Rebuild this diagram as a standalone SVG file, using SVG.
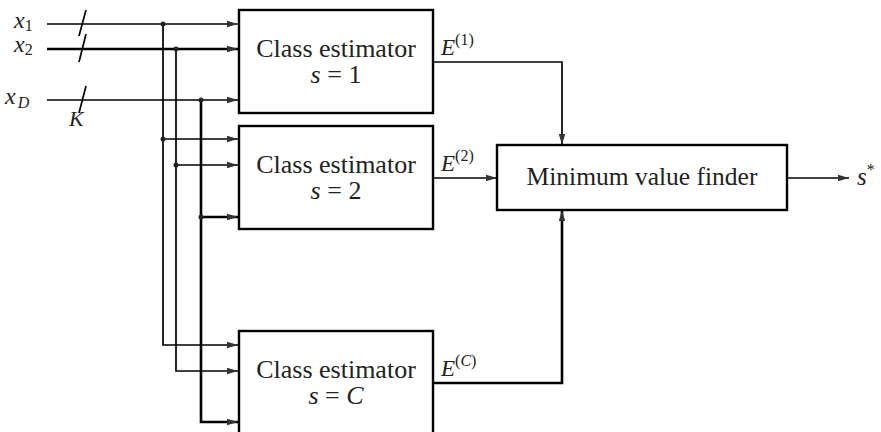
<svg xmlns="http://www.w3.org/2000/svg" width="881" height="432" viewBox="0 0 881 432">
<style>
text{font-family:"Liberation Serif","Times New Roman",serif;fill:#222}
.box{fill:#fff;stroke:#000;stroke-width:2.4}
.ln{fill:none;stroke:#000;stroke-width:1.7}
.tk{fill:none;stroke:#000;stroke-width:2.6}
.bt{font-size:26px;text-anchor:middle}
.it{font-style:italic}
.dot{fill:#222}
</style>
<defs>
<marker id="ar" markerUnits="userSpaceOnUse" markerWidth="12" markerHeight="8" refX="11" refY="4" orient="auto">
<path d="M0,0.8 L11,4 L0,7.2 Z" fill="#333"/>
</marker>
</defs>
<rect width="881" height="432" fill="#fff"/>
<g id="connectors">
<path class="ln" d="M47,24 H238" marker-end="url(#ar)"/>
<path class="tk" d="M47,49 H238" marker-end="url(#ar)"/>
<path class="ln" d="M47,100 H238" marker-end="url(#ar)"/>
<path class="ln" d="M79,36 L86,10 M79,62 L86,34 M79,113 L86,86"/>
<path class="ln" d="M163,24 V345 H238" marker-end="url(#ar)"/>
<path class="ln" d="M163,139 H238" marker-end="url(#ar)"/>
<path class="ln" d="M176,49 V371 H238" marker-end="url(#ar)"/>
<path class="ln" d="M176,165 H238" marker-end="url(#ar)"/>
<path class="tk" d="M201,100 V422 H238" marker-end="url(#ar)"/>
<path class="tk" d="M201,217 H238" marker-end="url(#ar)"/>
<circle class="dot" cx="163" cy="24" r="2.5"/>
<circle class="dot" cx="163" cy="139" r="2.5"/>
<circle class="dot" cx="176" cy="49" r="2.5"/>
<circle class="dot" cx="176" cy="165" r="2.5"/>
<circle class="dot" cx="201" cy="100" r="2.5"/>
<circle class="dot" cx="201" cy="217" r="2.5"/>
<path class="ln" d="M433,62 H562 V145" marker-end="url(#ar)"/>
<path class="ln" d="M433,178 H497" marker-end="url(#ar)"/>
<path class="tk" d="M433,383 H562 V210" marker-end="url(#ar)"/>
<path class="ln" d="M787,178 H849" marker-end="url(#ar)"/>
</g>
<g id="inputs">
<text x="14" y="28" font-size="24" class="it">x<tspan font-size="16" font-style="normal" dy="3">1</tspan></text>
<text x="14" y="52" font-size="24" class="it">x<tspan font-size="16" font-style="normal" dy="3">2</tspan></text>
<text x="5" y="104" font-size="24" class="it">x<tspan font-size="16" dx="2" dy="4">D</tspan></text>
<text x="69" y="126" font-size="22" class="it">K</text>
</g>
<g id="est1">
<rect class="box" x="239" y="10" width="194" height="103"/>
<text class="bt" x="336" y="57">Class estimator</text>
<text class="bt" x="336" y="83"><tspan class="it">s</tspan> = 1</text>
<text x="441" y="55" font-size="23" class="it">E<tspan font-size="16" font-style="normal" dy="-10">(1)</tspan></text>
</g>
<g id="est2">
<rect class="box" x="239" y="126" width="194" height="103"/>
<text class="bt" x="336" y="173">Class estimator</text>
<text class="bt" x="336" y="199"><tspan class="it">s</tspan> = 2</text>
<text x="441" y="171" font-size="23" class="it">E<tspan font-size="16" font-style="normal" dy="-10">(2)</tspan></text>
</g>
<g id="estC">
<rect class="box" x="239" y="331" width="194" height="103"/>
<text class="bt" x="336" y="378">Class estimator</text>
<text class="bt" x="336" y="404"><tspan class="it">s</tspan> = <tspan class="it">C</tspan></text>
<text x="441" y="376" font-size="23" class="it">E<tspan font-size="16" font-style="normal" dy="-10">(</tspan><tspan font-size="16">C</tspan><tspan font-size="16" font-style="normal">)</tspan></text>
</g>
<g id="minfinder">
<rect class="box" x="497" y="145" width="290" height="65"/>
<text x="642" y="185" font-size="25.5" text-anchor="middle">Minimum value finder</text>
</g>
<g id="output">
<text x="857" y="185" font-size="25" class="it">s<tspan font-size="16" font-style="normal" dy="-10">*</tspan></text>
</g>
</svg>
